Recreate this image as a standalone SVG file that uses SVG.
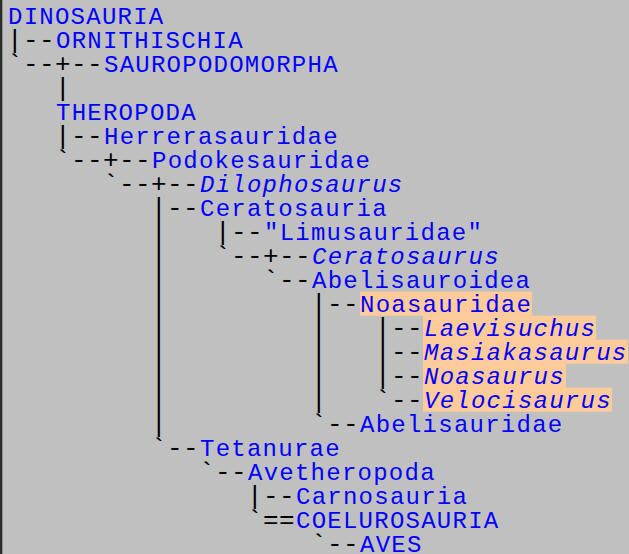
<svg xmlns="http://www.w3.org/2000/svg" width="629" height="554" viewBox="0 0 629 554">
  <style>
    text { font-family: "Liberation Mono", "DejaVu Sans Mono", monospace; font-size: 24px; }
    .tree { fill: #000000; font-size: 26px; letter-spacing: 0.4px; white-space: pre; }
    .name { fill: #0000ff; letter-spacing: 1.25px; }
    .it { font-style: italic; }
    .hl { fill: #ffcc99; }
  </style>
  <rect x="0" y="0" width="629" height="554" fill="#c0c0c0"/>
  <rect x="0" y="0" width="2.3" height="554" fill="#2b2b2b"/>

  <!-- tree lines: one text per row, monospace grid of 16px columns starting at x=7 -->
  <g id="connectors">
    <text class="tree" x="7" y="48" xml:space="preserve">|--</text>
    <text class="tree" x="7" y="72" xml:space="preserve">`--+--</text>
    <text class="tree" x="7" y="96" xml:space="preserve">   |</text>
    <text class="tree" x="7" y="144" xml:space="preserve">   |--</text>
    <text class="tree" x="7" y="168" xml:space="preserve">   `--+--</text>
    <text class="tree" x="7" y="192" xml:space="preserve">      `--+--</text>
    <text class="tree" x="7" y="216" xml:space="preserve">         |--</text>
    <text class="tree" x="7" y="240" xml:space="preserve">         |   |--</text>
    <text class="tree" x="7" y="264" xml:space="preserve">         |   `--+--</text>
    <text class="tree" x="7" y="288" xml:space="preserve">         |      `--</text>
    <text class="tree" x="7" y="312" xml:space="preserve">         |         |--</text>
    <text class="tree" x="7" y="336" xml:space="preserve">         |         |   |--</text>
    <text class="tree" x="7" y="360" xml:space="preserve">         |         |   |--</text>
    <text class="tree" x="7" y="384" xml:space="preserve">         |         |   |--</text>
    <text class="tree" x="7" y="408" xml:space="preserve">         |         |   `--</text>
    <text class="tree" x="7" y="432" xml:space="preserve">         |         `--</text>
    <text class="tree" x="7" y="456" xml:space="preserve">         `--</text>
    <text class="tree" x="7" y="480" xml:space="preserve">            `--</text>
    <text class="tree" x="7" y="504" xml:space="preserve">               |--</text>
    <text class="tree" x="7" y="528" xml:space="preserve">               `==</text>
    <text class="tree" x="7" y="552" xml:space="preserve">                   `--</text>
  </g>

  <g id="dinosauria"><text class="name" x="8" y="24">DINOSAURIA</text></g>
  <g id="ornithischia"><text class="name" x="56" y="48">ORNITHISCHIA</text></g>
  <g id="sauropodomorpha"><text class="name" x="104" y="72">SAUROPODOMORPHA</text></g>
  <g id="theropoda"><text class="name" x="56" y="120">THEROPODA</text></g>
  <g id="herrerasauridae"><text class="name" x="104" y="144">Herrerasauridae</text></g>
  <g id="podokesauridae"><text class="name" x="152" y="168">Podokesauridae</text></g>
  <g id="dilophosaurus"><text class="name it" x="200" y="192">Dilophosaurus</text></g>
  <g id="ceratosauria"><text class="name" x="200" y="216">Ceratosauria</text></g>
  <g id="limusauridae"><text class="name" x="264" y="240">"Limusauridae"</text></g>
  <g id="ceratosaurus"><text class="name it" x="312" y="264">Ceratosaurus</text></g>
  <g id="abelisauroidea"><text class="name" x="312" y="288">Abelisauroidea</text></g>
  <g id="noasauridae">
    <rect class="hl" x="360" y="291.7" width="172" height="24"/>
    <text class="name" x="360" y="312">Noasauridae</text>
  </g>
  <g id="laevisuchus">
    <rect class="hl" x="423" y="315.7" width="173" height="24"/>
    <text class="name it" x="424" y="336">Laevisuchus</text>
  </g>
  <g id="masiakasaurus">
    <rect class="hl" x="423" y="339.7" width="205" height="24"/>
    <text class="name it" x="424" y="360">Masiakasaurus</text>
  </g>
  <g id="noasaurus">
    <rect class="hl" x="423" y="363.7" width="143" height="24"/>
    <text class="name it" x="424" y="384">Noasaurus</text>
  </g>
  <g id="velocisaurus">
    <rect class="hl" x="423" y="387.7" width="189" height="24"/>
    <text class="name it" x="424" y="408">Velocisaurus</text>
  </g>
  <g id="abelisauridae"><text class="name" x="360" y="432">Abelisauridae</text></g>
  <g id="tetanurae"><text class="name" x="200" y="456">Tetanurae</text></g>
  <g id="avetheropoda"><text class="name" x="248" y="480">Avetheropoda</text></g>
  <g id="carnosauria"><text class="name" x="296" y="504">Carnosauria</text></g>
  <g id="coelurosauria"><text class="name" x="296" y="528">COELUROSAURIA</text></g>
  <g id="aves"><text class="name" x="360" y="552">AVES</text></g>
</svg>
